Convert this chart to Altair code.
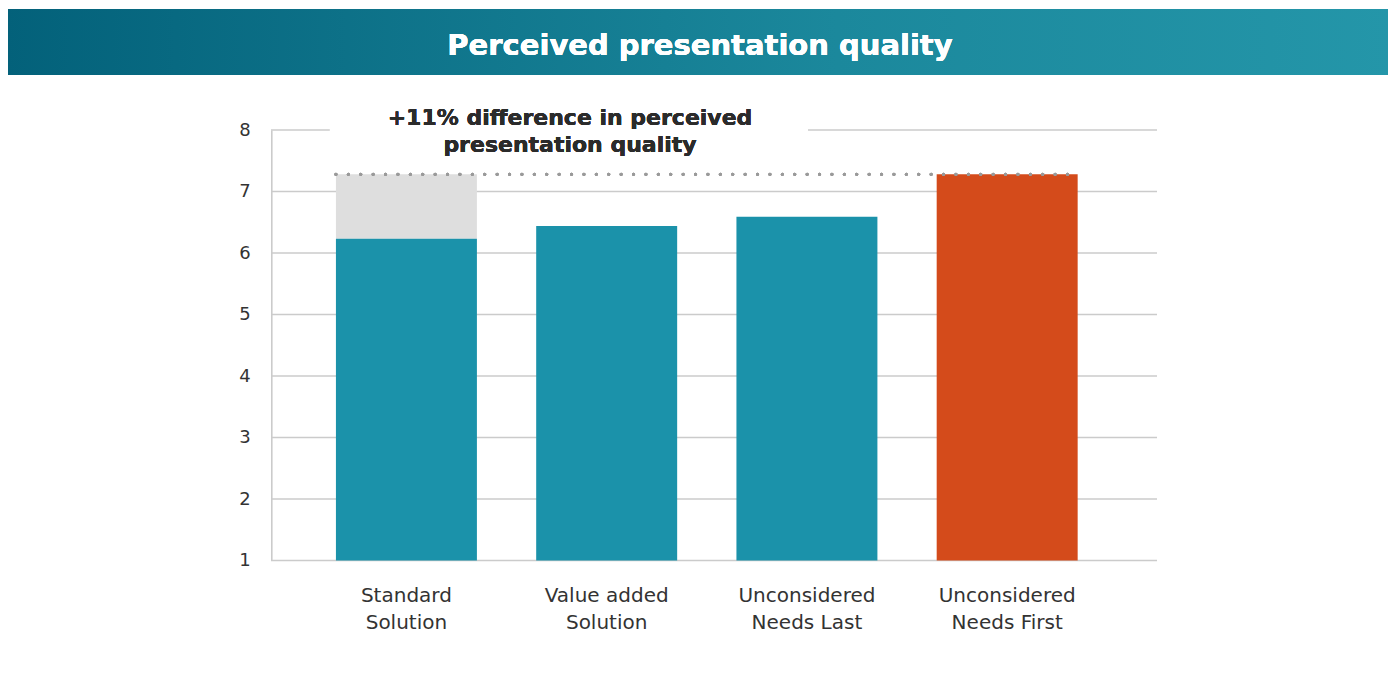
import altair as alt
import pandas as pd

# ---- data ----
categories = ["Standard Solution", "Value added Solution",
              "Unconsidered Needs Last", "Unconsidered Needs First"]
label_lines = ["Standard\nSolution", "Value added\nSolution",
               "Unconsidered\nNeeds Last", "Unconsidered\nNeeds First"]
values = [6.23, 6.44, 6.59, 7.28]
highlight = [False, False, False, True]
gap_category = "Standard Solution"
y_ticks = [1, 2, 3, 4, 5, 6, 7, 8]
title_text = "Perceived presentation quality"
annotation_text = "+11% difference in perceived\npresentation quality"

# ---- layout ----
PLOT_W = 801
PLOT_H = 430.5
PAD_IN = 0.296
PAD_OUT = PAD_IN / 2
STEP = PLOT_W / (len(categories) - PAD_IN + 2 * PAD_OUT)
BAR_LEFT = STEP * PAD_OUT
BAR_RIGHT = PLOT_W - STEP * PAD_OUT
PAD_L, PAD_T = 298.3, 122
PAD_R = 1380 - PAD_L - PLOT_W
PAD_B = 649 - PAD_T - PLOT_H

TEAL = "#1b92aa"
ORANGE = "#d44b1b"
GREY = "#dedede"
GRID = "#cbcbcb"
TEXT = "#333333"
FONT = "DejaVu Sans"

df = pd.DataFrame({
    "category": categories,
    "label": label_lines,
    "value": values,
    "highlight": highlight,
})
df["best"] = max(values)
ticks_df = pd.DataFrame({"tick": y_ticks})

xscale = alt.Scale(domain=categories, paddingInner=PAD_IN, paddingOuter=PAD_OUT)
yscale = alt.Scale(domain=[1, 8], nice=False, zero=False)

base = alt.Chart(df)

banner = base.mark_rect(
    color=alt.Gradient(
        gradient="linear",
        stops=[alt.GradientStop(color="#03617a", offset=0),
               alt.GradientStop(color="#1b889c", offset=0.6),
               alt.GradientStop(color="#2496a9", offset=1)],
        x1=0, x2=1, y1=0, y2=0,
    )
).encode(
    x=alt.value(-PAD_L - 3), x2=alt.value(PLOT_W + PAD_R + 3),
    y=alt.value(-121), y2=alt.value(-55),
)

title = base.mark_text(
    text=title_text, font=FONT, fontSize=29, fontWeight="bold",
    color="white", align="center", baseline="middle",
).encode(x=alt.value(700 - 8 - PAD_L), y=alt.value(-84))

grid = alt.Chart(ticks_df).mark_rule(color=GRID, strokeWidth=1.6).encode(
    y=alt.Y("tick:Q", scale=yscale,
            axis=alt.Axis(values=y_ticks, format="d", title=None, grid=False,
                          ticks=False, tickSize=0, offset=35, labelPadding=21,
                          domainColor=GRID, domainWidth=1.6,
                          labelFont=FONT, labelFontSize=18, labelColor=TEXT)),
    x=alt.value(-35.3), x2=alt.value(PLOT_W + 49.7),
)

mask = base.mark_rect(color="white").encode(
    x=alt.value(BAR_LEFT - 6), x2=alt.value(BAR_LEFT + 472),
    y=alt.value(-5), y2=alt.value(5),
)

bars = base.mark_bar().encode(
    x=alt.X("category:N", scale=xscale, axis=None),
    y=alt.Y("value:Q", scale=yscale),
    y2=alt.datum(1),
    color=alt.Color("highlight:N", scale=alt.Scale(domain=[False, True],
                                                   range=[TEAL, ORANGE]),
                    legend=None),
)

gap = base.transform_filter(
    alt.datum.category == gap_category
).mark_bar(color=GREY).encode(
    x=alt.X("category:N", scale=xscale, axis=None),
    y=alt.Y("best:Q", scale=yscale),
    y2="value:Q",
)

dotted = base.mark_rule(
    color="#9a9a9a", strokeWidth=3.2, strokeCap="round", strokeDash=[0, 12.4]
).encode(
    y=alt.datum(max(values)),
    x=alt.value(BAR_LEFT), x2=alt.value(BAR_RIGHT),
)

annotation = base.mark_text(
    text=annotation_text, lineBreak="\n", lineHeight=27, font=FONT,
    fontSize=22, fontWeight="bold", color="#2b2b2b",
    align="center", baseline="middle",
).encode(x=alt.value(570 - 8 - PAD_L), y=alt.value(-12))

xlabels = base.mark_text(
    lineBreak="\n", lineHeight=27, font=FONT, fontSize=20,
    color=TEXT, align="center", baseline="middle",
).encode(
    x=alt.X("category:N", scale=xscale, axis=None),
    y=alt.value(466),
    text="label:N",
)

chart = alt.layer(
    banner, title, grid, mask, gap, bars, dotted, annotation, xlabels
).properties(
    width=PLOT_W, height=PLOT_H,
    autosize=alt.AutoSizeParams(type="none"),
    padding={"left": PAD_L, "top": PAD_T, "right": PAD_R, "bottom": PAD_B},
    background="white",
).configure_view(stroke=None)

chart.save("out.html", embed_options={"renderer": "svg", "actions": False})
